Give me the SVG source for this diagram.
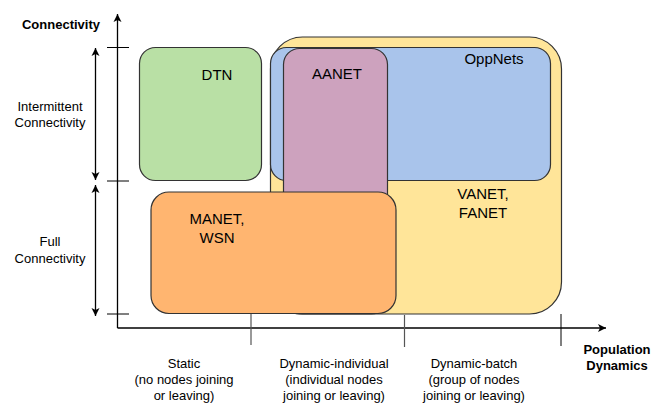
<svg xmlns="http://www.w3.org/2000/svg" width="660" height="405" viewBox="0 0 660 405">
<defs>
<marker id="ah" markerWidth="10" markerHeight="10" refX="9" refY="5" orient="auto" markerUnits="userSpaceOnUse">
<path d="M1,1 L9,5 L1,9 L3,5 Z" fill="#000"/>
</marker>
</defs>
<style>
.box{stroke:#333;stroke-width:1.2}
.lbl{font-family:"Liberation Sans",Arial,sans-serif;font-size:15px;fill:#000;text-anchor:middle}
.ax{font-family:"Liberation Sans",Arial,sans-serif;font-size:13px;fill:#000;text-anchor:middle}
.axb{font-family:"Liberation Sans",Arial,sans-serif;font-size:13px;font-weight:bold;fill:#000;text-anchor:middle}
.ln{stroke:#000;stroke-width:1.3;fill:none}
.tk{stroke:#000;stroke-width:1;fill:none}
.tkg{stroke:#555;stroke-width:1.2;fill:none}
</style>
<g id="vanet">
<rect class="box" x="270.5" y="37" width="291" height="277" rx="32" ry="32" fill="#ffe599"/>
<text class="lbl" x="483" y="199">VANET,</text>
<text class="lbl" x="483" y="218">FANET</text>
</g>
<g id="oppnets">
<rect class="box" x="270.5" y="47.5" width="280" height="133" rx="16" ry="16" fill="#a9c4eb"/>
<text class="lbl" x="494" y="64">OppNets</text>
</g>
<g id="aanet">
<rect class="box" x="283.5" y="48.5" width="104" height="265.5" rx="16" ry="16" fill="#cda2be"/>
<text class="lbl" x="337" y="79">AANET</text>
</g>
<g id="dtn">
<rect class="box" x="139.5" y="47.5" width="122" height="133" rx="16" ry="16" fill="#b9e0a5"/>
<text class="lbl" x="217" y="80">DTN</text>
</g>
<g id="manet">
<rect class="box" x="151" y="192" width="245" height="121.5" rx="18" ry="18" fill="#ffb570"/>
<text class="lbl" x="217" y="224">MANET,</text>
<text class="lbl" x="217" y="243">WSN</text>
</g>
<g id="connectors">
<line class="ln" x1="117.5" y1="328" x2="117.5" y2="14" marker-end="url(#ah)"/>
<line class="ln" x1="117.5" y1="328" x2="606" y2="328" marker-end="url(#ah)"/>
<line class="tk" x1="107" y1="47.5" x2="129" y2="47.5"/>
<line class="tk" x1="107" y1="181" x2="129" y2="181"/>
<line class="tk" x1="107" y1="314" x2="129" y2="314"/>
<line class="tkg" x1="251" y1="314" x2="251" y2="345"/>
<line class="tkg" x1="404.5" y1="315" x2="404.5" y2="347"/>
<line class="tk" x1="561" y1="314" x2="561" y2="346"/>
<line class="ln" x1="95.5" y1="112" x2="95.5" y2="48" marker-end="url(#ah)"/>
<line class="ln" x1="95.5" y1="112" x2="95.5" y2="180" marker-end="url(#ah)"/>
<line class="ln" x1="95.5" y1="250" x2="95.5" y2="185" marker-end="url(#ah)"/>
<line class="ln" x1="95.5" y1="250" x2="95.5" y2="316" marker-end="url(#ah)"/>
</g>
<g id="labels">
<text class="axb" x="61" y="29">Connectivity</text>
<text class="ax" x="50" y="111">Intermittent</text>
<text class="ax" x="50" y="127">Connectivity</text>
<text class="ax" x="50" y="246">Full</text>
<text class="ax" x="50" y="263">Connectivity</text>
<text class="ax" x="184" y="368">Static</text>
<text class="ax" x="184" y="384">(no nodes joining</text>
<text class="ax" x="184" y="400">or leaving)</text>
<text class="ax" x="334" y="368">Dynamic-individual</text>
<text class="ax" x="334" y="384">(individual nodes</text>
<text class="ax" x="334" y="400">joining or leaving)</text>
<text class="ax" x="474" y="368">Dynamic-batch</text>
<text class="ax" x="474" y="384">(group of nodes</text>
<text class="ax" x="474" y="400">joining or leaving)</text>
<text class="axb" x="617" y="354">Population</text>
<text class="axb" x="617" y="370">Dynamics</text>
</g>
</svg>
